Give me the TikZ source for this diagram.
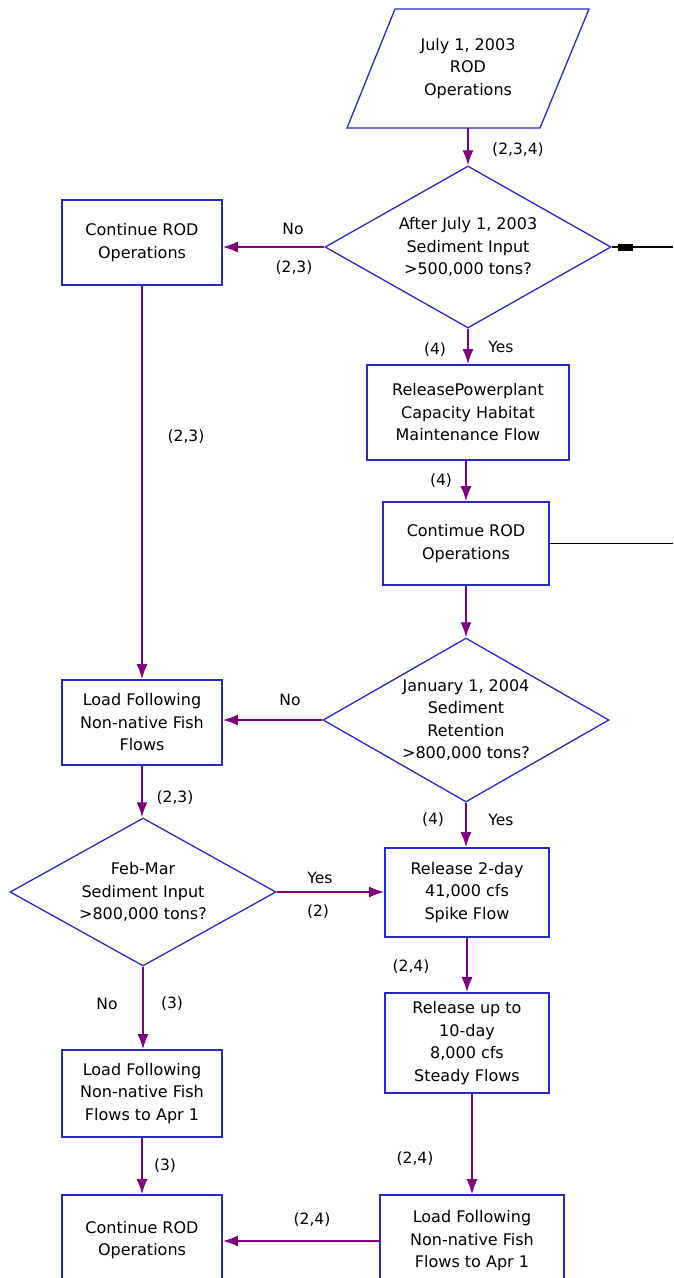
\documentclass[tikz,border=0pt]{standalone}
\usepackage{fontspec}
\setmainfont{DejaVu Sans}
\usetikzlibrary{shapes.geometric,arrows.meta}
\definecolor{boxblue}{HTML}{2828CC}
\definecolor{arrpurple}{HTML}{800080}
\tikzset{
  box/.style={draw=boxblue, line width=1.6pt, rectangle, inner sep=0pt, align=center, font=\fontsize{16}{22.5}\selectfont},
  dia/.style={draw=boxblue, line width=1.3pt, diamond, inner sep=0pt},
  txt/.style={align=center, inner sep=0pt, font=\fontsize{16}{22.5}\selectfont},
  lab/.style={inner sep=0pt, font=\fontsize{15.5}{18}\selectfont},
  arr/.style={draw=arrpurple, line width=1.8pt, -{Latex[length=15pt,width=11pt]}},
  blk/.style={draw=black, line width=1.2pt}
}
\begin{document}
\begin{tikzpicture}[x=1pt,y=-1pt]
\clip (0,0) rectangle (673,1278);
\fill[white] (0,0) rectangle (673,1278);
% parallelogram
\draw[boxblue, line width=1.3pt] (395,9) -- (589,9) -- (540,128) -- (347,128) -- cycle;
\node[txt, minimum height=119pt] (p) at (468,68.5) {July 1, 2003\\ROD\\Operations};
% diamonds
\node[dia, minimum width=286pt, minimum height=162pt] (d1) at (468,247) {};
\node[txt] at (d1) {After July 1, 2003\\Sediment Input\\>500,000 tons?};
\node[dia, minimum width=286pt, minimum height=164pt] (d2) at (466,720) {};
\node[txt] at (d2) {January 1, 2004\\Sediment\\Retention\\>800,000 tons?};
\node[dia, minimum width=266pt, minimum height=148pt] (d3) at (143,892) {};
\node[txt] at (d3) {Feb-Mar\\Sediment Input\\>800,000 tons?};
% boxes
\node[box, minimum width=160pt, minimum height=85pt] (b1) at (142,242.5) {Continue ROD\\Operations};
\node[box, minimum width=202pt, minimum height=95pt] (b2) at (468,412.5) {ReleasePowerplant\\Capacity Habitat\\Maintenance Flow};
\node[box, minimum width=166pt, minimum height=83pt] (b3) at (466,543.5) {Contimue ROD\\Operations};
\node[box, minimum width=160pt, minimum height=85pt] (b4) at (142,722.5) {Load Following\\Non-native Fish\\Flows};
\node[box, minimum width=164pt, minimum height=89pt] (b5) at (467,892.5) {Release 2-day\\41,000 cfs\\Spike Flow};
\node[box, minimum width=160pt, minimum height=87pt] (b6) at (142,1093.5) {Load Following\\Non-native Fish\\Flows to Apr 1};
\node[box, minimum width=164pt, minimum height=100pt] (b7) at (467,1043) {Release up to\\10-day\\8,000 cfs\\Steady Flows};
\node[box, minimum width=160pt, minimum height=90pt] (b8) at (142,1240) {Continue ROD\\Operations};
\node[box, minimum width=184pt, minimum height=92pt] (b9) at (472,1241) {Load Following\\Non-native Fish\\Flows to Apr 1};
% off-page coordinates
\coordinate (r1) at (673,247);
\coordinate (r2) at (673,544);
% connectors
\draw[arr] (p.south) -- (d1.north);
\draw[arr] (d1.west) -- (d1.west -| b1.east);
\draw[arr] (b1.south) -- (b4.north);
\draw[arr] (d1.south) -- (b2.north);
\draw[arr] (b3.north |- b2.south) -- (b3.north);
\draw[blk] (b3.east) -- (b3.east -| r2);
\draw[blk] (r1) -- (d1.east);
\fill[black] ([xshift=6pt,yshift=-3.5pt]d1.east) rectangle ([xshift=21pt,yshift=3.5pt]d1.east);
\draw[arr] (b3.south) -- (d2.north);
\draw[arr] (d2.west) -- (d2.west -| b4.east);
\draw[arr] (d2.south) -- (d2.south |- b5.north);
\draw[arr] (b4.south) -- (b4.south |- d3.north);
\draw[arr] (d3.east) -- (d3.east -| b5.west);
\draw[arr] (d3.south) -- (d3.south |- b6.north);
\draw[arr] (b5.south) -- (b7.north);
\draw[arr] (b9.north |- b7.south) -- (b9.north);
\draw[arr] (b9.west) -- (b9.west -| b8.east);
\draw[arr] (b6.south) -- (b8.north);
% labels
\node[lab] (l1) at (518,150) {(2,3,4)};
\node[lab] (l2) at (293,229) {No};
\node[lab] (l3) at (294,268) {(2,3)};
\node[lab] (l4) at (186,437) {(2,3)};
\node[lab] (l5) at (435,350) {(4)};
\node[lab] (l6) at (501,347) {Yes};
\node[lab] (l7) at (441,481) {(4)};
\node[lab] (l8) at (290,700) {No};
\node[lab] (l9) at (433,820) {(4)};
\node[lab] (l10) at (501,820) {Yes};
\node[lab] (l11) at (175,798) {(2,3)};
\node[lab] (l12) at (320,878) {Yes};
\node[lab] (l13) at (318,912) {(2)};
\node[lab] (l14) at (107,1004) {No};
\node[lab] (l15) at (172,1004) {(3)};
\node[lab] (l16) at (411,967) {(2,4)};
\node[lab] (l17) at (415,1159) {(2,4)};
\node[lab] (l18) at (312,1220) {(2,4)};
\node[lab] (l19) at (165,1166) {(3)};
\end{tikzpicture}
\end{document}
